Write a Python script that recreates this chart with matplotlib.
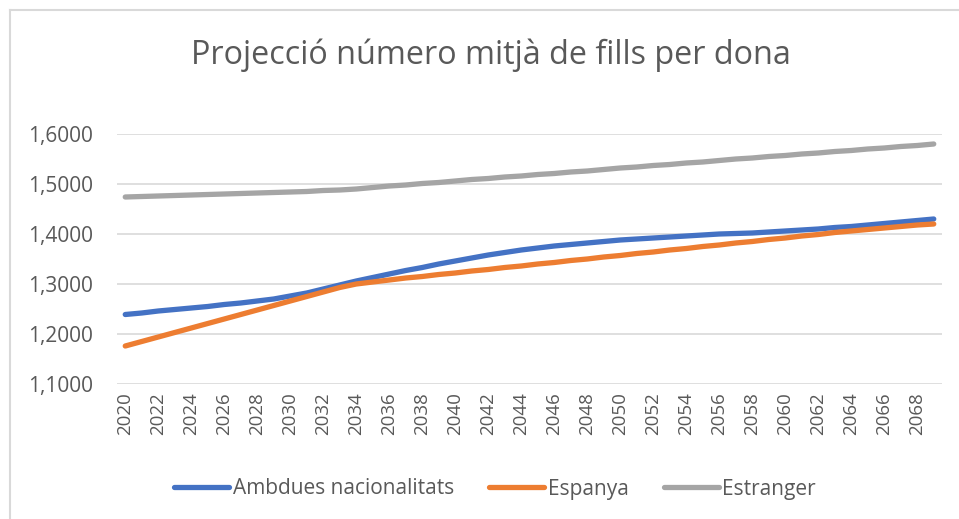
import numpy as np
import matplotlib
matplotlib.use('Agg')
import matplotlib.pyplot as plt
from matplotlib.lines import Line2D

years = list(range(2020, 2070))
tick_years = list(range(2020, 2070, 2))

ambdues = [1.239, 1.242, 1.246, 1.249, 1.252, 1.255, 1.259, 1.262, 1.266, 1.270,
           1.276, 1.282, 1.290, 1.298, 1.306, 1.313, 1.320, 1.327, 1.333, 1.340,
           1.346, 1.352, 1.358, 1.363, 1.368, 1.372, 1.376, 1.379, 1.382, 1.385,
           1.388, 1.390, 1.392, 1.394, 1.396, 1.398, 1.400, 1.401, 1.402, 1.404,
           1.406, 1.408, 1.410, 1.413, 1.415, 1.418, 1.421, 1.424, 1.427, 1.430]
espanya = [1.176, 1.185, 1.194, 1.203, 1.212, 1.221, 1.230, 1.239, 1.248, 1.257,
           1.266, 1.275, 1.284, 1.293, 1.300, 1.304, 1.308, 1.312, 1.315, 1.319,
           1.322, 1.326, 1.329, 1.333, 1.336, 1.340, 1.343, 1.347, 1.350, 1.354,
           1.357, 1.361, 1.364, 1.368, 1.371, 1.375, 1.378, 1.382, 1.385, 1.389,
           1.392, 1.396, 1.399, 1.403, 1.406, 1.409, 1.412, 1.415, 1.418, 1.420]
estranger = [1.474, 1.475, 1.476, 1.477, 1.478, 1.479, 1.480, 1.481, 1.482, 1.483,
             1.484, 1.485, 1.487, 1.488, 1.490, 1.493, 1.496, 1.498, 1.501, 1.503,
             1.506, 1.509, 1.511, 1.514, 1.516, 1.519, 1.521, 1.524, 1.526, 1.529,
             1.532, 1.534, 1.537, 1.539, 1.542, 1.544, 1.547, 1.550, 1.552, 1.555,
             1.557, 1.560, 1.562, 1.565, 1.567, 1.570, 1.572, 1.575, 1.577, 1.580]
y_ticks = [1.1, 1.2, 1.3, 1.4, 1.5, 1.6]

plt.rcParams['font.family'] = ['Open Sans', 'DejaVu Sans']
text_col = '#595959'
fs = 15

fig = plt.figure(figsize=(9.59, 5.19), dpi=100)
ax = fig.add_axes([117/959, 1 - 384/519, 825/959, 250/519])

lw = 3.8
ax.plot(years, ambdues, color='#4472C4', lw=lw, solid_capstyle='round', label='Ambdues nacionalitats')
ax.plot(years, espanya, color='#ED7D31', lw=lw, solid_capstyle='round', label='Espanya')
ax.plot(years, estranger, color='#A5A5A5', lw=lw, solid_capstyle='round', label='Estranger')

ax.set_xlim(2019.5, 2069.5)
ax.set_ylim(1.1, 1.6)
ax.set_yticks(y_ticks)
ax.set_yticklabels([('%.4f' % v).replace('.', ',') for v in y_ticks], fontsize=fs, color=text_col)
ax.set_xticks(tick_years)
ax.set_xticklabels([str(y) for y in tick_years], rotation=90, fontsize=13.5, color=text_col)
ax.tick_params(length=0)
ax.tick_params(axis='x', pad=6)
ax.tick_params(axis='y', pad=17)
ax.grid(axis='y', color='#D9D9D9', lw=1.2)
ax.set_axisbelow(True)
for s in ax.spines.values():
    s.set_visible(False)

fig.text(491/959, 1 - 55/519, 'Projecció número mitjà de fills per dona',
         ha='center', va='center', fontsize=23.3, color=text_col)

leg = fig.legend(loc='center', bbox_to_anchor=(495/959, 1 - 489/519), ncol=3,
                 frameon=False, fontsize=fs, handlelength=2.65, handletextpad=0.15,
                 columnspacing=1.7)
for t in leg.get_texts():
    t.set_color(text_col)

# chart border (top and left visible)
fig.add_artist(Line2D([9.5/959, 9.5/959], [0, 1 - 10/519], color='#D9D9D9', lw=1.5))
fig.add_artist(Line2D([9.5/959, 1], [1 - 10/519, 1 - 10/519], color='#D9D9D9', lw=1.5))

fig.savefig('out.png', dpi=100)
